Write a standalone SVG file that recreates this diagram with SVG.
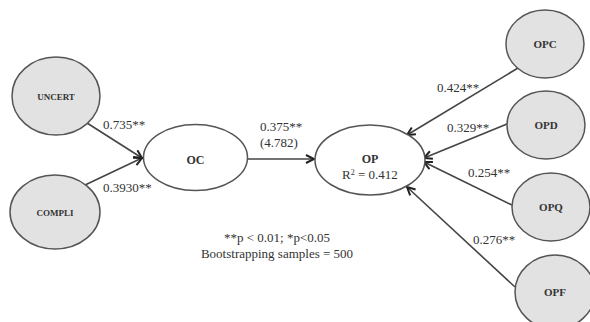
<svg xmlns="http://www.w3.org/2000/svg" width="590" height="322" viewBox="0 0 590 322">
<style>
.bg{fill:#ffffff}
.lat{fill:#e2e2e2;stroke:#555;stroke-width:1.5}
.end{fill:#ffffff;stroke:#555;stroke-width:1.5}
.nl{font-family:"Liberation Serif",serif;fill:#333;text-anchor:middle}
.small{font-size:9px;font-weight:bold}
.mid{font-size:12px;font-weight:bold}
.lbl{font-family:"Liberation Serif",serif;font-size:13px;fill:#333}
.ln{stroke:#444;stroke-width:1.6;fill:none;marker-end:url(#arr)}
</style>
<defs>
<marker id="arr" markerUnits="userSpaceOnUse" markerWidth="12" markerHeight="12" refX="9" refY="5" orient="auto">
<path d="M1,1 L9,5 L1,9" fill="none" stroke="#222" stroke-width="2"/>
</marker>
</defs>
<rect class="bg" x="0" y="0" width="590" height="322"/>
<g id="connectors">
<line class="ln" x1="87" y1="123" x2="142" y2="158"/>
<line class="ln" x1="85" y1="185" x2="142" y2="158"/>
<line class="ln" x1="248" y1="159" x2="314" y2="159"/>
<line class="ln" x1="518" y1="68" x2="407" y2="135"/>
<line class="ln" x1="507" y1="124" x2="424" y2="158"/>
<line class="ln" x1="512" y1="205" x2="424" y2="162"/>
<line class="ln" x1="515" y1="287" x2="407" y2="187"/>
</g>
<g id="labels">
<text class="lbl" x="103" y="129">0.735**</text>
<text class="lbl" x="103" y="192">0.3930**</text>
<text class="lbl" x="260" y="131">0.375**</text>
<text class="lbl" x="260" y="147">(4.782)</text>
<text class="lbl" x="437" y="92">0.424**</text>
<text class="lbl" x="447" y="132">0.329**</text>
<text class="lbl" x="468" y="177">0.254**</text>
<text class="lbl" x="473" y="244">0.276**</text>
<text class="lbl" x="277" y="242" text-anchor="middle">**p &lt; 0.01; *p&lt;0.05</text>
<text class="lbl" x="277" y="258" text-anchor="middle">Bootstrapping samples = 500</text>
</g>
<g id="UNCERT">
<ellipse class="lat" cx="56" cy="96" rx="44" ry="39"/>
<text class="nl small" x="56" y="100">UNCERT</text>
</g>
<g id="COMPLI">
<ellipse class="lat" cx="55" cy="212" rx="45" ry="37"/>
<text class="nl small" x="55" y="216">COMPLI</text>
</g>
<g id="OC">
<ellipse class="end" cx="195.5" cy="157.5" rx="52" ry="33"/>
<text class="nl mid" x="195.5" y="164">OC</text>
</g>
<g id="OP">
<ellipse class="end" cx="370" cy="160" rx="55" ry="35"/>
<text class="nl mid" x="370" y="163">OP</text>
<text class="nl" style="font-size:13px" x="370" y="179">R<tspan dy="-4" style="font-size:8px">2</tspan><tspan dy="4"> = 0.412</tspan></text>
</g>
<g id="OPC">
<ellipse class="lat" cx="545" cy="44" rx="39" ry="34"/>
<text class="nl mid" style="font-size:11px" x="545" y="48">OPC</text>
</g>
<g id="OPD">
<ellipse class="lat" cx="546" cy="125" rx="39" ry="34"/>
<text class="nl mid" style="font-size:11px" x="546" y="129">OPD</text>
</g>
<g id="OPQ">
<ellipse class="lat" cx="551" cy="207" rx="39" ry="34"/>
<text class="nl mid" style="font-size:11px" x="551" y="211">OPQ</text>
</g>
<g id="OPF">
<ellipse class="lat" cx="555" cy="292" rx="40" ry="37"/>
<text class="nl mid" style="font-size:11px" x="555" y="296">OPF</text>
</g>
</svg>
